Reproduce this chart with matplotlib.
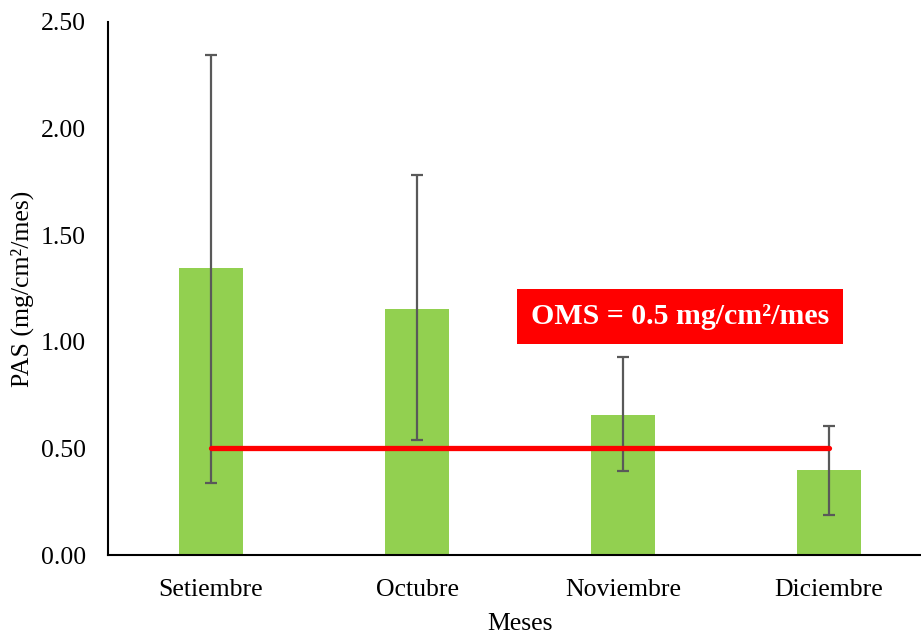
import numpy as np
import matplotlib.pyplot as plt

plt.rcParams['font.family'] = ['Liberation Serif', 'DejaVu Serif']

# datos
meses = ['Setiembre', 'Octubre', 'Noviembre', 'Diciembre']
pas = [1.345, 1.155, 0.657, 0.399]
err_inf = [1.005, 0.617, 0.263, 0.211]
err_sup = [1.0, 0.627, 0.272, 0.206]
oms = 0.5
yticks = [0.0, 0.5, 1.0, 1.5, 2.0, 2.5]

fig = plt.figure(figsize=(9.21, 6.37), dpi=100)
ax = fig.add_axes([108 / 921, 82 / 637, 824 / 921, 533 / 637])

x = np.arange(len(meses))
ax.bar(x, pas, width=0.31, color='#92D050', zorder=2)
ax.errorbar(x, pas, yerr=[err_inf, err_sup], fmt='none', ecolor='#595959',
            elinewidth=1.6, capsize=4, capthick=1.6, zorder=3)

# límite OMS
ax.plot([x[0], x[-1]], [oms, oms], color='red', lw=3.8, solid_capstyle='round', zorder=4)
ax.text(2.277, 1.12, 'OMS = 0.5 mg/cm²/mes', color='white', fontsize=21.5,
        fontweight='bold', ha='center', va='center', zorder=5,
        bbox=dict(boxstyle='square,pad=0.47', facecolor='red', edgecolor='none'))

ax.set_xlim(-0.5, len(meses) - 0.5)
ax.set_ylim(0, 2.5)
ax.set_yticks(yticks)
ax.set_yticklabels([f'{v:.2f}' for v in yticks], fontsize=18.5)
ax.set_xticks(x)
ax.set_xticklabels(meses, fontsize=18.5)
ax.tick_params(length=0, pad=17)
ax.tick_params(axis='y', pad=16)

for s in ['top', 'right']:
    ax.spines[s].set_visible(False)
ax.spines['left'].set_linewidth(1.5)
ax.spines['bottom'].set_linewidth(1.5)

ax.set_xlabel('Meses', fontsize=18.5, labelpad=9)
ax.set_ylabel('PAS (mg/cm²/mes)', fontsize=18.5, labelpad=5)

fig.savefig('out.png', dpi=100)
